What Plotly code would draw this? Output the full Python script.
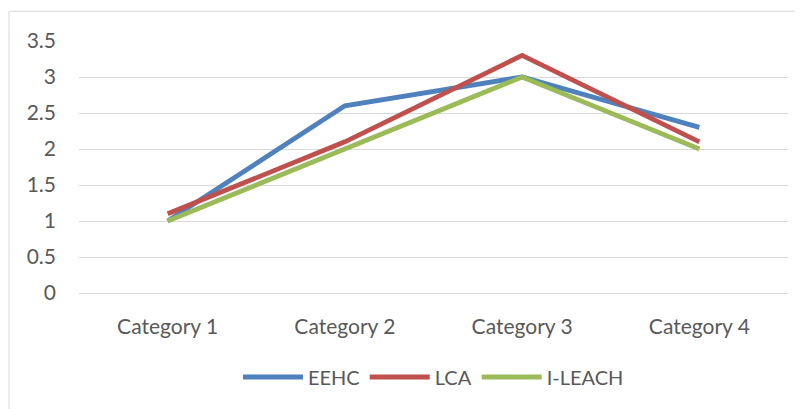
import plotly.graph_objects as go

categories = ["Category 1", "Category 2", "Category 3", "Category 4"]
eehc = [1.0, 2.6, 3.0, 2.3]
lca = [1.1, 2.1, 3.3, 2.1]
ileach = [1.0, 2.0, 3.0, 2.0]
series_names = ["EEHC", "LCA", "I-LEACH"]
colors = ["#4F81BD", "#C0504D", "#9BBB59"]

# page body has an 8px default margin; compensate
OFF = 8
W, H = 803 - OFF, 409 - OFF
ml, mr, mt, mb = 79 - OFF, 15, 41 - OFF, 113

fig = go.Figure()
for name, vals, col in zip(series_names, [eehc, lca, ileach], colors):
    fig.add_trace(go.Scatter(x=categories, y=vals, name=name, mode="lines",
                             line=dict(color=col, width=4.8)))

pw = W - ml - mr
ph = H - mt - mb
def px2paper_x(px):
    return (px - OFF - ml) / pw
def px2paper_y(py):
    return (H - mb - (py - OFF)) / ph

fig.add_shape(type="rect", xref="paper", yref="paper",
              x0=px2paper_x(9), x1=px2paper_x(830),
              y0=px2paper_y(440), y1=px2paper_y(11),
              line=dict(color="#D9D9D9", width=1), fillcolor="rgba(0,0,0,0)", layer="below")

FONT = "Lato, Calibri, sans-serif"
FS = 21
fig.update_layout(
    width=W, height=H,
    margin=dict(l=ml, r=mr, t=mt, b=mb),
    paper_bgcolor="white", plot_bgcolor="white",
    font=dict(family=FONT, size=FS, color="#595959"),
    showlegend=True,
    legend=dict(orientation="h", x=0.5, xanchor="center", y=px2paper_y(381), yanchor="middle",
                font=dict(family=FONT, size=20, color="#595959"), itemwidth=60, tracegroupgap=0),
    xaxis=dict(type="category", range=[-0.5, 3.5], showgrid=False, showline=False,
               ticks="", tickfont=dict(family=FONT, size=FS, color="#595959"), ticklabelstandoff=19),
    yaxis=dict(range=[0, 3.5], dtick=0.5, showgrid=True, gridcolor="#D9D9D9", gridwidth=1,
               zeroline=True, zerolinecolor="#D9D9D9", zerolinewidth=1, showline=False,
               ticks="", tickfont=dict(family=FONT, size=FS, color="#595959"), ticklabelstandoff=22,
               tickformat="~g"),
)

fig.write_html("out.html")
